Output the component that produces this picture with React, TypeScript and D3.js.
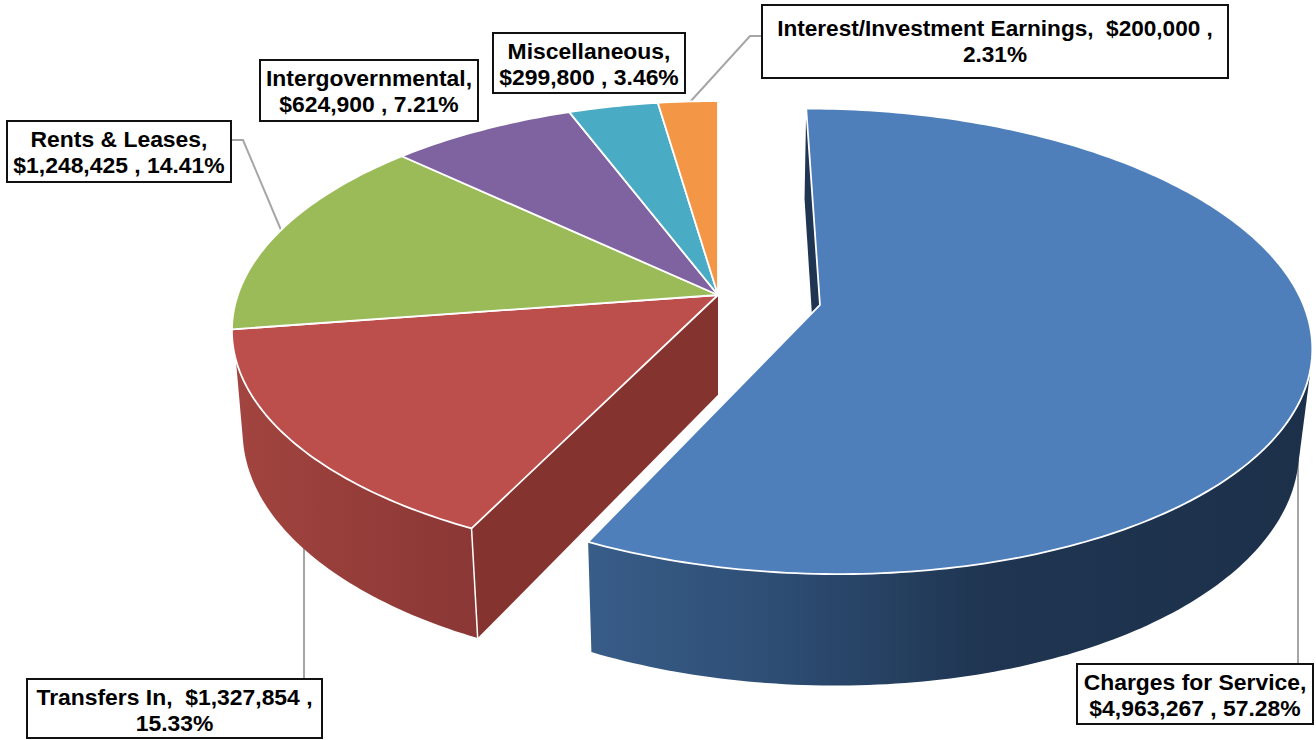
import React from "react";
import * as d3 from "d3";

const categories = ["Charges for Service", "Transfers In", "Rents & Leases", "Intergovernmental", "Miscellaneous", "Interest/Investment Earnings"];
const values = [4963267, 1327854, 1248425, 624900, 299800, 200000];
const percents = ["57.28%", "15.33%", "14.41%", "7.21%", "3.46%", "2.31%"];
const moneyLabels = ["$4,963,267", "$1,327,854", "$1,248,425", "$624,900", "$299,800", "$200,000"];
const colors = ["#4e7fbb", "#bc4f4c", "#9bbb59", "#7f63a1", "#4aabc5", "#f39645"];

// projection of the tilted disc (perspective)
const CX = 718, CY = 295, A = 480.2, B = 224, K = 0.155, M = 0.022, N = 102;
const EXPLODE = [0.2109, -0.0443];

type Pt = [number, number];
function project(u: number, v: number, h: number): Pt {
  const w = 1 + K * v + M * h;
  return [CX + (A * u) / w, CY - (B * v - N * h) / w];
}
function rim(angle: number, h: number, off: number[]): Pt {
  return project(Math.sin(angle) + off[0], Math.cos(angle) + off[1], h);
}
function apex(h: number, off: number[]): Pt {
  return project(off[0], off[1], h);
}
function arcPts(a0: number, a1: number, h: number, off: number[]): Pt[] {
  const n = Math.max(8, Math.ceil((a1 - a0) * 60));
  return d3.range(n + 1).map((i) => rim(a0 + ((a1 - a0) * i) / n, h, off));
}
const line = d3.line<Pt>().x((d) => d[0]).y((d) => d[1]);
const closed = (p: Pt[]) => (line(p) as string) + "Z";

const arcs = d3.pie<number>().sort(null)(values);

type Box = { x: number; y: number; w: number; h: number; base: number; lines: string[]; size: number; leader?: Pt[] };
const boxes: Box[] = [
  { x: 1077, y: 664, w: 236, h: 60, base: 25.5, size: 22.9, lines: [categories[0] + ",", `${moneyLabels[0]} , ${percents[0]}`], leader: [[1298, 664], [1298, 430]] },
  { x: 27, y: 679, w: 295, h: 59, base: 25.5, size: 22.9, lines: [`${categories[1]},  ${moneyLabels[1]} ,`, percents[1]], leader: [[304, 679], [304, 545]] },
  { x: 7, y: 121, w: 224, h: 61, base: 26, size: 22.9, lines: [categories[2] + ",", `${moneyLabels[2]} , ${percents[2]}`], leader: [[231, 140], [243, 140], [281, 230]] },
  { x: 260, y: 60, w: 218, h: 61, base: 26, size: 22.9, lines: [categories[3] + ",", `${moneyLabels[3]} , ${percents[3]}`] },
  { x: 493, y: 33, w: 192, h: 60, base: 26, size: 22.9, lines: [categories[4] + ",", `${moneyLabels[4]} , ${percents[4]}`] },
  { x: 762, y: 5, w: 466, h: 73, base: 31, size: 22.6, lines: [`${categories[5]},  ${moneyLabels[5]} ,`, percents[5]], leader: [[762, 36], [750, 36], [690, 102]] },
];

const NONE = [0, 0];
const WALL_HIDDEN_START = Math.PI / 4;
const RED_RIM_TRIM = 0.13;

export default function App() {
  const blue = arcs[0];
  const red = arcs[1];
  const bluePts = [
    ...arcPts(WALL_HIDDEN_START, blue.endAngle, 0, EXPLODE),
    ...arcPts(WALL_HIDDEN_START, blue.endAngle, 1, EXPLODE),
  ];
  const redPts = [
    ...arcPts(red.startAngle, red.endAngle - RED_RIM_TRIM, 0, NONE),
    ...arcPts(red.startAngle, red.endAngle, 1, NONE),
  ];
  const blueWall = d3.polygonHull(bluePts) as Pt[];
  const redWall = d3.polygonHull(redPts) as Pt[];
  const blueBack = [apex(0, EXPLODE), rim(blue.startAngle, 0, EXPLODE), rim(blue.startAngle, 1, EXPLODE), apex(1, EXPLODE)];
  const redSide = [apex(0, NONE), rim(red.startAngle, 0, NONE), rim(red.startAngle, 1, NONE), apex(1, NONE)];
  const blueX = d3.extent(blueWall, (d) => d[0]) as [number, number];
  const redX = d3.extent(redWall, (d) => d[0]) as [number, number];

  return (
    <svg width={1316} height={740} viewBox="0 0 1316 740" style={{ position: "absolute", left: 0, top: 0, display: "block", background: "#fff" }}>
      <defs>
        <linearGradient id="blueWall" gradientUnits="userSpaceOnUse" x1={blueX[0]} x2={blueX[1]} y1={0} y2={0}>
          <stop offset="0" stopColor="#385d88" />
          <stop offset="0.25" stopColor="#2e4e75" />
          <stop offset="0.55" stopColor="#1f3551" />
          <stop offset="1" stopColor="#1c304a" />
        </linearGradient>
        <linearGradient id="redWall" gradientUnits="userSpaceOnUse" x1={redX[0]} x2={redX[1]} y1={0} y2={0}>
          <stop offset="0" stopColor="#a2443f" />
          <stop offset="1" stopColor="#8a3735" />
        </linearGradient>
      </defs>

      {boxes.map((b, i) => b.leader && (
        <path key={i} d={line(b.leader) as string} fill="none" stroke="#a6a6a6" strokeWidth={2} />
      ))}

      {/* main pie */}
      <path d={closed(redSide)} fill="#85332f" />
      <path d={closed(redWall)} fill="url(#redWall)" />
      <path d={line([rim(red.startAngle, 0, NONE), rim(red.startAngle, 1, NONE)]) as string} stroke="#fff" strokeWidth={1.5} fill="none" />
      {arcs.slice(1).map((a, i) => (
        <path
          key={i}
          d={closed([apex(0, NONE), ...arcPts(a.startAngle, a.endAngle, 0, NONE)])}
          fill={colors[i + 1]}
          stroke="#fff"
          strokeWidth={1.8}
          strokeLinejoin="round"
        />
      ))}

      {/* exploded slice */}
      <path d={closed(blueBack)} fill="#1f3552" />
      <path d={closed(blueWall)} fill="url(#blueWall)" />
      <path
        d={closed([apex(0, EXPLODE), ...arcPts(blue.startAngle, blue.endAngle, 0, EXPLODE)])}
        fill={colors[0]}
        stroke="#fff"
        strokeWidth={1.8}
        strokeLinejoin="round"
      />

      {boxes.map((b, i) => (
        <g key={i}>
          <rect x={b.x} y={b.y} width={b.w} height={b.h} fill="#fff" stroke="#111" strokeWidth={2} />
          {b.lines.map((t, j) => (
            <text
              key={j}
              x={b.x + b.w / 2}
              y={b.y + b.base + j * 26}
              textAnchor="middle"
              fontFamily="'Liberation Sans', Arial, sans-serif"
              fontWeight="bold"
              fontSize={b.size}
              fill="#000"
              xmlSpace="preserve"
            >
              {t}
            </text>
          ))}
        </g>
      ))}
    </svg>
  );
}
